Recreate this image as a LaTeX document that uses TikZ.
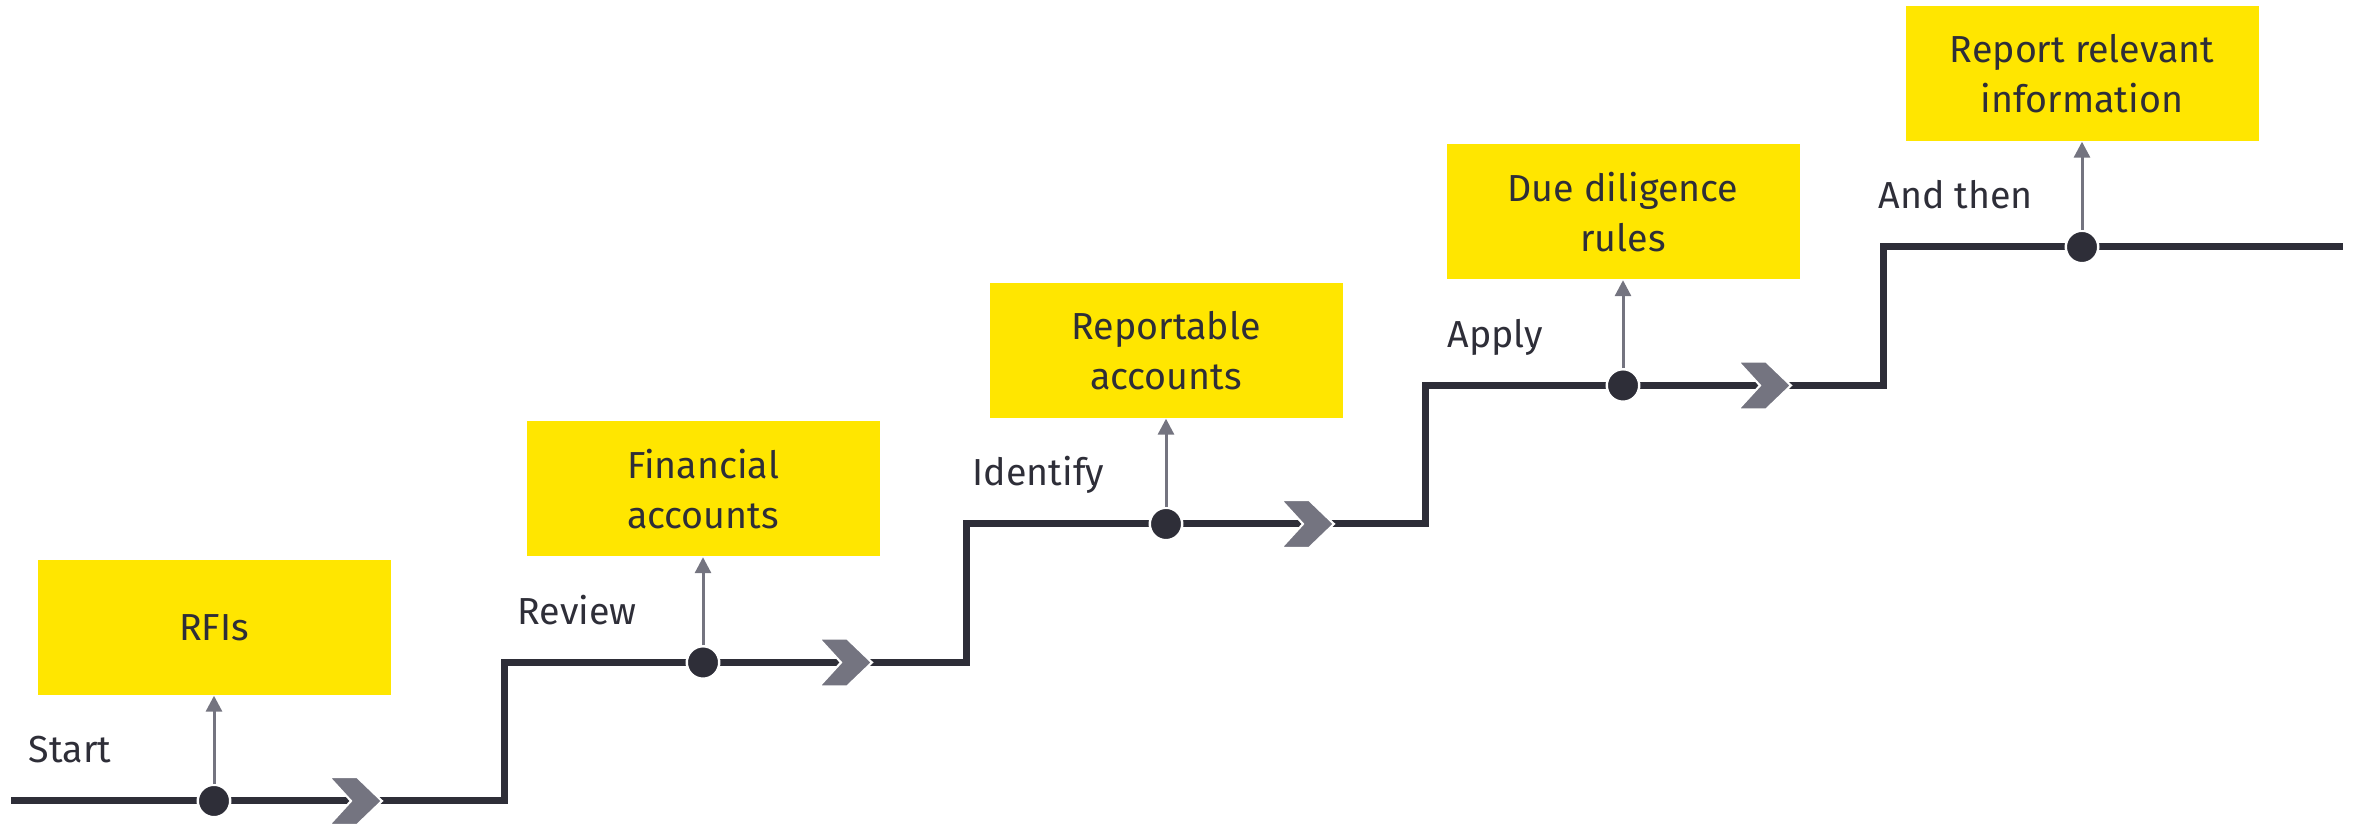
\documentclass[tikz,border=0pt]{standalone}
\usepackage{fontspec}
\setmainfont{Fira Sans}
\usetikzlibrary{positioning,arrows.meta}

\begin{document}
\begin{tikzpicture}[x=0.1mm, y=-0.1mm, every node/.style={font=\fontsize{10.7}{14.2}\selectfont}]
		% Define colors
		\definecolor{eyyellow}{RGB}{255, 230, 0}
		\definecolor{eydark}{RGB}{46, 46, 56}
		\definecolor{eygrey}{RGB}{116, 116, 128}

		% Styles
		\tikzstyle{step_box} = [fill=eyyellow, text=eydark, minimum width=35.3mm, minimum height=13.5mm, inner sep=0pt, align=center]
		\tikzstyle{step_label} = [text=eydark, anchor=base west, inner sep=0pt]
		\tikzstyle{step_dot} = [circle, fill=eydark, draw=white, line width=0.7pt, minimum size=3.25mm, inner sep=0pt]
		\tikzstyle{stair_line} = [draw=eydark, line width=0.7mm, miter limit=10]
		\tikzstyle{up_arrow} = [draw=eygrey, line width=0.3mm, -{Triangle[width=1.6mm, length=1.6mm]}]
		\tikzstyle{chevron_mark} = [fill=eygrey, draw=white, line width=0.6pt, line join=miter]

		\useasboundingbox (0,0) rectangle (2358,829);

		% Stair levels (y)
		\def\levzero{801}
		\def\levone{662.5}
		\def\levtwo{524}
		\def\levthree{385.5}
		\def\levfour{247}

		% The stair
		\draw[stair_line] (11,\levzero) -- (504,\levzero) -- (504,\levone) -- (966,\levone) -- (966,\levtwo)
			-- (1425,\levtwo) -- (1425,\levthree) -- (1883,\levthree) -- (1883,\levfour) -- (2343,\levfour);

		% Chevrons on the treads
		\draw[chevron_mark, shift={(382,\levzero)}] (-53,-24) -- (-25,-24) -- (0,0) -- (-25,24) -- (-53,24) -- (-31,0) -- cycle;
		\draw[chevron_mark, shift={(872,\levone)}] (-53,-24) -- (-25,-24) -- (0,0) -- (-25,24) -- (-53,24) -- (-31,0) -- cycle;
		\draw[chevron_mark, shift={(1334,\levtwo)}] (-53,-24) -- (-25,-24) -- (0,0) -- (-25,24) -- (-53,24) -- (-31,0) -- cycle;
		\draw[chevron_mark, shift={(1791,\levthree)}] (-53,-24) -- (-25,-24) -- (0,0) -- (-25,24) -- (-53,24) -- (-31,0) -- cycle;

		% Dots
		\node[step_dot] (start_dot) at (214,\levzero) {};
		\node[step_dot] (review_dot) at (703,\levone) {};
		\node[step_dot] (identify_dot) at (1166,\levtwo) {};
		\node[step_dot] (apply_dot) at (1623,\levthree) {};
		\node[step_dot] (then_dot) at (2082,\levfour) {};

		% Yellow boxes
		\node[step_box] (rfis) at (214,627.5) {RFIs};
		\node[step_box] (financial) at (703,489) {Financial\\accounts};
		\node[step_box] (reportable) at (1166,350.5) {Reportable\\accounts};
		\node[step_box] (diligence) at (1623,212) {Due diligence\\rules};
		\node[step_box] (report) at (2082,73.5) {Report relevant\\information};

		% Arrows up to the boxes
		\draw[up_arrow] (start_dot) -- (rfis);
		\draw[up_arrow] (review_dot) -- (financial);
		\draw[up_arrow] (identify_dot) -- (reportable);
		\draw[up_arrow] (apply_dot) -- (diligence);
		\draw[up_arrow] (then_dot) -- (report);

		% Step labels
		\node[step_label] (start_lbl) at (28,763) {Start};
		\node[step_label] (review_lbl) at (517,624.5) {Review};
		\node[step_label] (identify_lbl) at (972,486) {Identify};
		\node[step_label] (apply_lbl) at (1447,347.5) {Apply};
		\node[step_label] (then_lbl) at (1878,209) {And then};

	\end{tikzpicture}
\end{document}
